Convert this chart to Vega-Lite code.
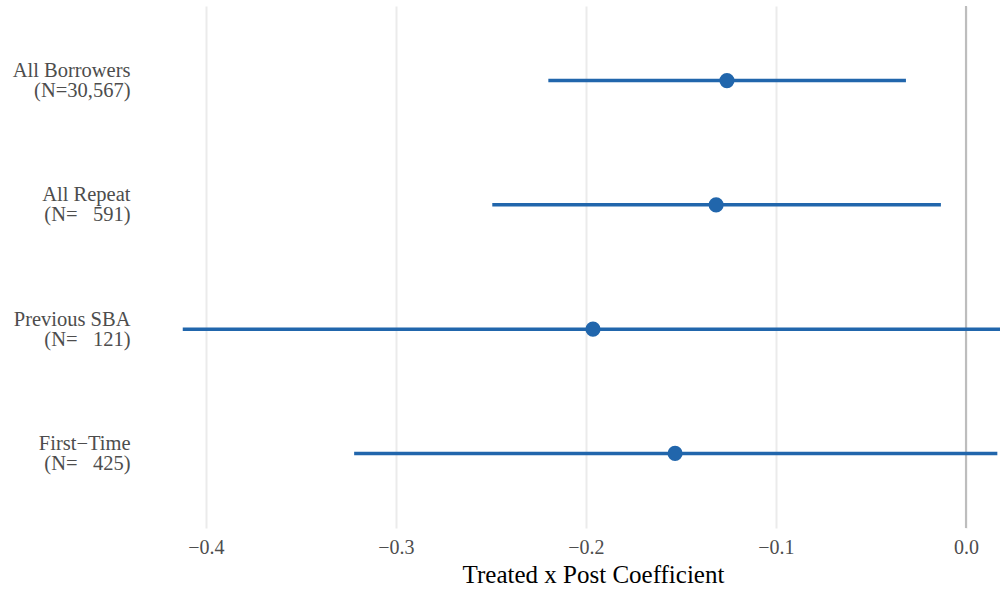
{
  "$schema": "https://vega.github.io/schema/vega-lite/v6.json",
  "autosize": {"type": "none"},
  "width": 860,
  "height": 522,
  "padding": {"left": 140, "top": 6, "right": 0, "bottom": 66},
  "background": "white",
  "config": {
    "view": {"stroke": null},
    "font": "Liberation Serif"
  },
  "data": {
    "values": [
      {"group": "All Borrowers\n(N=30,567)", "est": -0.1258, "lo": -0.2198, "hi": -0.0316},
      {"group": "All Repeat\n(N=\u00a0\u00a0\u00a0591)", "est": -0.1315, "lo": -0.2493, "hi": -0.0132},
      {"group": "Previous SBA\n(N=\u00a0\u00a0\u00a0121)", "est": -0.1963, "lo": -0.4122, "hi": 0.03},
      {"group": "First\u2212Time\n(N=\u00a0\u00a0\u00a0425)", "est": -0.1531, "lo": -0.322, "hi": 0.0165}
    ]
  },
  "encoding": {
    "y": {
      "field": "group",
      "type": "nominal",
      "sort": null,
      "scale": {"type": "point", "padding": 0.6},
      "axis": {
        "title": null,
        "domain": false,
        "ticks": false,
        "grid": false,
        "labelExpr": "split(datum.label, '\\n')",
        "labelFontSize": 20.5,
        "labelLineHeight": 20,
        "labelColor": "#4d4d4d",
        "labelAlign": "right",
        "labelBaseline": "middle",
        "labelOffset": -10,
        "labelPadding": 10,
        "labelFont": "Liberation Serif"
      }
    }
  },
  "layer": [
    {
      "mark": {"type": "rule", "color": "#bdbdbd", "strokeWidth": 2},
      "encoding": {
        "x": {"datum": 0, "type": "quantitative"},
        "y": null
      }
    },
    {
      "mark": {"type": "rule", "color": "#2166ac", "strokeWidth": 3.5, "clip": true},
      "encoding": {
        "x": {
          "field": "lo",
          "type": "quantitative",
          "scale": {"domain": [-0.4347, 0.0179], "nice": false, "zero": false},
          "axis": {
            "title": "Treated x Post Coefficient",
            "titleFontSize": 25,
            "titleFontWeight": "normal",
            "titleColor": "black",
            "titleFont": "Liberation Serif",
            "titlePadding": 5,
            "titleX": 453,
            "titleAlign": "center",
            "values": [-0.4, -0.3, -0.2, -0.1, 0],
            "format": ".1f",
            "domain": false,
            "ticks": false,
            "grid": true,
            "gridColor": "#ebebeb",
            "gridWidth": 2,
            "labelFontSize": 20,
            "labelColor": "#4d4d4d",
            "labelPadding": 9,
            "labelFont": "Liberation Serif"
          }
        },
        "x2": {"field": "hi"}
      }
    },
    {
      "mark": {"type": "circle", "color": "#2166ac", "size": 230, "opacity": 1},
      "encoding": {
        "x": {"field": "est", "type": "quantitative"}
      }
    }
  ]
}
